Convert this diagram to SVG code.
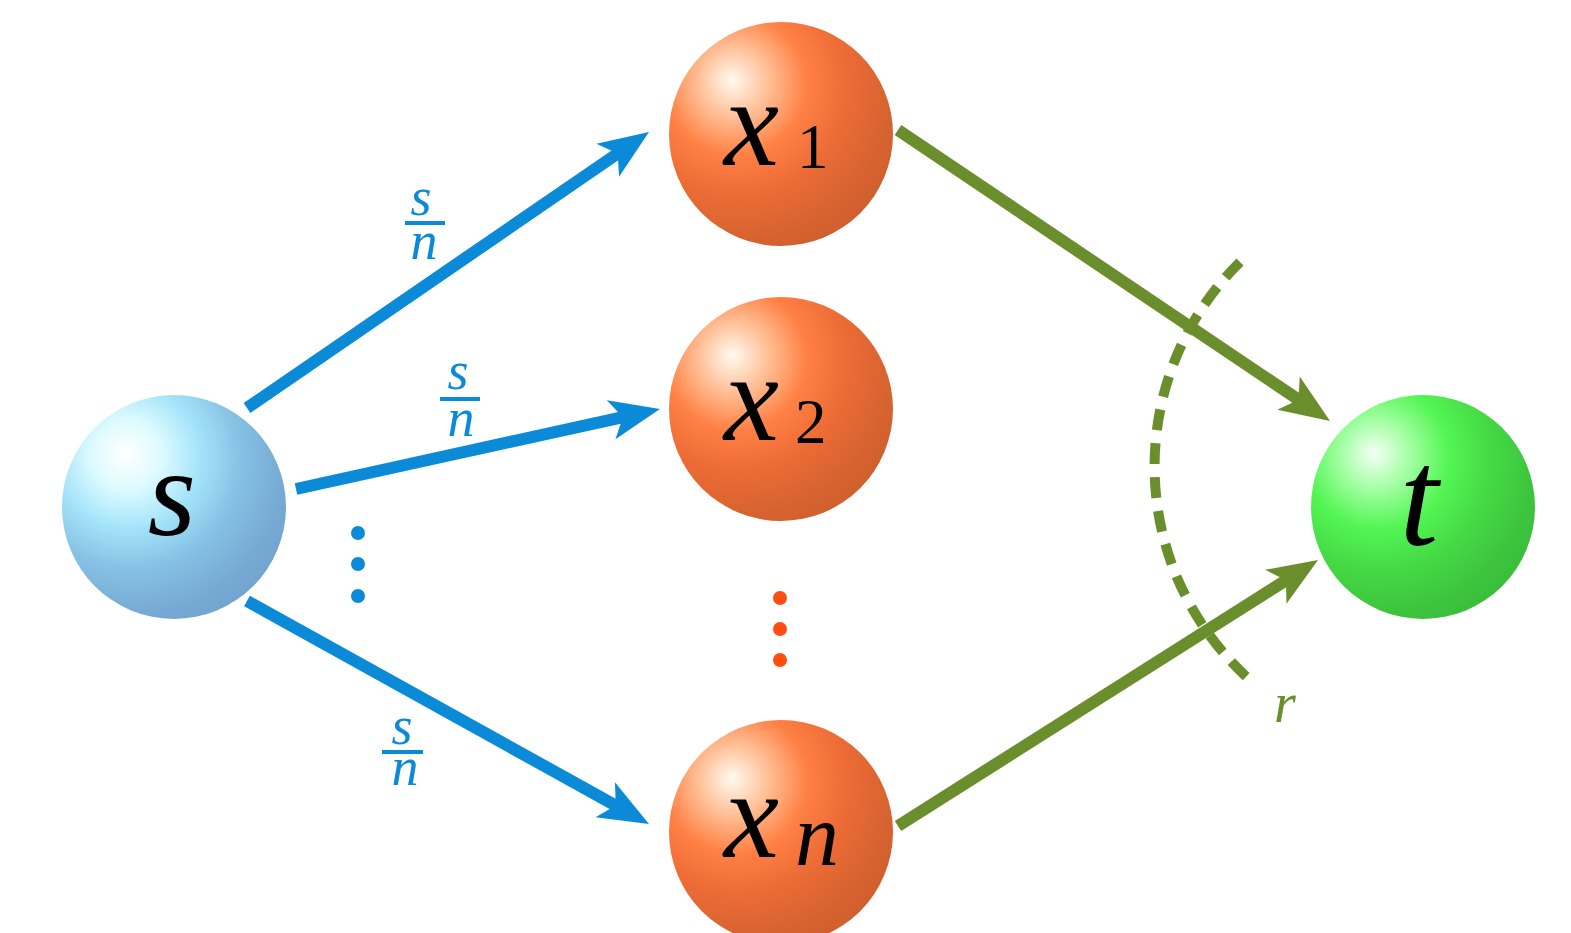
<svg xmlns="http://www.w3.org/2000/svg" width="1571" height="933" viewBox="0 0 1571 933">
<style>
.math{font-family:"Liberation Serif","Times New Roman",serif;font-style:italic;fill:#000}
.rm{font-family:"Liberation Serif","Times New Roman",serif;fill:#000}
.blue{stroke:#0b8ad8;stroke-width:12;fill:none}
.green{stroke:#6a8e2c;stroke-width:12;fill:none}
.lblb{font-family:"Liberation Serif","Times New Roman",serif;font-style:italic;fill:#0b8ad8;font-size:54px;text-anchor:middle}
.lblg{font-family:"Liberation Serif","Times New Roman",serif;font-style:italic;fill:#6a8e2c;font-size:56px;text-anchor:middle}
</style>
<defs>
<radialGradient id="gBlue" cx="0.32" cy="0.3" r="0.8" fx="0.28" fy="0.26">
<stop offset="0" stop-color="#ffffff"/>
<stop offset="0.2" stop-color="#dcfaff"/>
<stop offset="0.4" stop-color="#a4e4fa"/>
<stop offset="0.62" stop-color="#86c0e4"/>
<stop offset="0.85" stop-color="#76aad4"/>
<stop offset="1" stop-color="#70a2cf"/>
</radialGradient>
<radialGradient id="gOrange" cx="0.32" cy="0.3" r="0.8" fx="0.28" fy="0.26">
<stop offset="0" stop-color="#fffaf0"/>
<stop offset="0.2" stop-color="#ffbe94"/>
<stop offset="0.4" stop-color="#ff8044"/>
<stop offset="0.62" stop-color="#ec6b36"/>
<stop offset="0.85" stop-color="#d6632f"/>
<stop offset="1" stop-color="#cf5e2e"/>
</radialGradient>
<radialGradient id="gGreen" cx="0.32" cy="0.3" r="0.8" fx="0.28" fy="0.26">
<stop offset="0" stop-color="#f4fff4"/>
<stop offset="0.2" stop-color="#a0ffa0"/>
<stop offset="0.4" stop-color="#54f554"/>
<stop offset="0.62" stop-color="#45da45"/>
<stop offset="0.85" stop-color="#3dc43d"/>
<stop offset="1" stop-color="#3abc3a"/>
</radialGradient>
<marker id="ahB" markerUnits="userSpaceOnUse" markerWidth="70" markerHeight="50" viewBox="-25 -25 70 50" refX="0" refY="0" orient="auto" overflow="visible">
<path d="M32 0 L-18 -20 L-6 0 L-18 20 Z" fill="#0b8ad8"/>
</marker>
<marker id="ahG" markerUnits="userSpaceOnUse" markerWidth="70" markerHeight="50" viewBox="-25 -25 70 50" refX="0" refY="0" orient="auto" overflow="visible">
<path d="M32 0 L-18 -20 L-6 0 L-18 20 Z" fill="#6a8e2c"/>
</marker>
</defs>
<rect width="1571" height="933" fill="#ffffff"/>

<g id="connectors">
<line class="blue" x1="247" y1="408" x2="622.6" y2="150.1" marker-end="url(#ahB)"/>
<line class="blue" x1="296" y1="489" x2="628.7" y2="415.9" marker-end="url(#ahB)"/>
<line class="blue" x1="247" y1="601" x2="621" y2="808.5" marker-end="url(#ahB)"/>
<line class="green" x1="898" y1="130" x2="1303.5" y2="403.1" marker-end="url(#ahG)"/>
<line class="green" x1="898" y1="826" x2="1291" y2="577.1" marker-end="url(#ahG)"/>
<path d="M1240 262 A287 287 0 0 0 1250 680" fill="none" stroke="#6a8e2c" stroke-width="10" stroke-dasharray="21 13"/>
</g>

<g id="labels">
<text class="lblb" x="421" y="215">s</text>
<rect x="405" y="221" width="40" height="4" fill="#0b8ad8"/>
<text class="lblb" x="424" y="259">n</text>
<text class="lblb" x="458" y="389">s</text>
<rect x="440" y="397" width="40" height="4" fill="#0b8ad8"/>
<text class="lblb" x="461" y="436">n</text>
<text class="lblb" x="402" y="744">s</text>
<rect x="382" y="750" width="41" height="4" fill="#0b8ad8"/>
<text class="lblb" x="405" y="785">n</text>
<text class="lblg" x="1285" y="722">r</text>
</g>

<g id="dots">
<circle cx="358" cy="533" r="7" fill="#0b8ad8"/>
<circle cx="358" cy="564" r="7" fill="#0b8ad8"/>
<circle cx="358" cy="596" r="7" fill="#0b8ad8"/>
<circle cx="780" cy="598" r="7" fill="#ff4d12"/>
<circle cx="780" cy="629" r="7" fill="#ff4d12"/>
<circle cx="780" cy="660" r="7" fill="#ff4d12"/>
</g>

<g id="node-s">
<circle cx="174" cy="507" r="112" fill="url(#gBlue)"/>
<text class="math" x="172" y="535" font-size="124" text-anchor="middle">s</text>
</g>

<g id="node-x1">
<circle cx="781" cy="134" r="112" fill="url(#gOrange)"/>
<text class="math" x="724" y="165" font-size="124">x</text>
<text class="rm" x="797" y="168" font-size="63">1</text>
</g>

<g id="node-x2">
<circle cx="781" cy="409" r="112" fill="url(#gOrange)"/>
<text class="math" x="724" y="440" font-size="124">x</text>
<text class="rm" x="795" y="443" font-size="63">2</text>
</g>

<g id="node-xn">
<circle cx="781" cy="832" r="112" fill="url(#gOrange)"/>
<text class="math" x="724" y="857" font-size="124">x</text>
<text class="math" x="795" y="865" font-size="88">n</text>
</g>

<g id="node-t">
<circle cx="1423" cy="507" r="112" fill="url(#gGreen)"/>
<text class="math" x="1419" y="545" font-size="140" text-anchor="middle">t</text>
</g>
</svg>
